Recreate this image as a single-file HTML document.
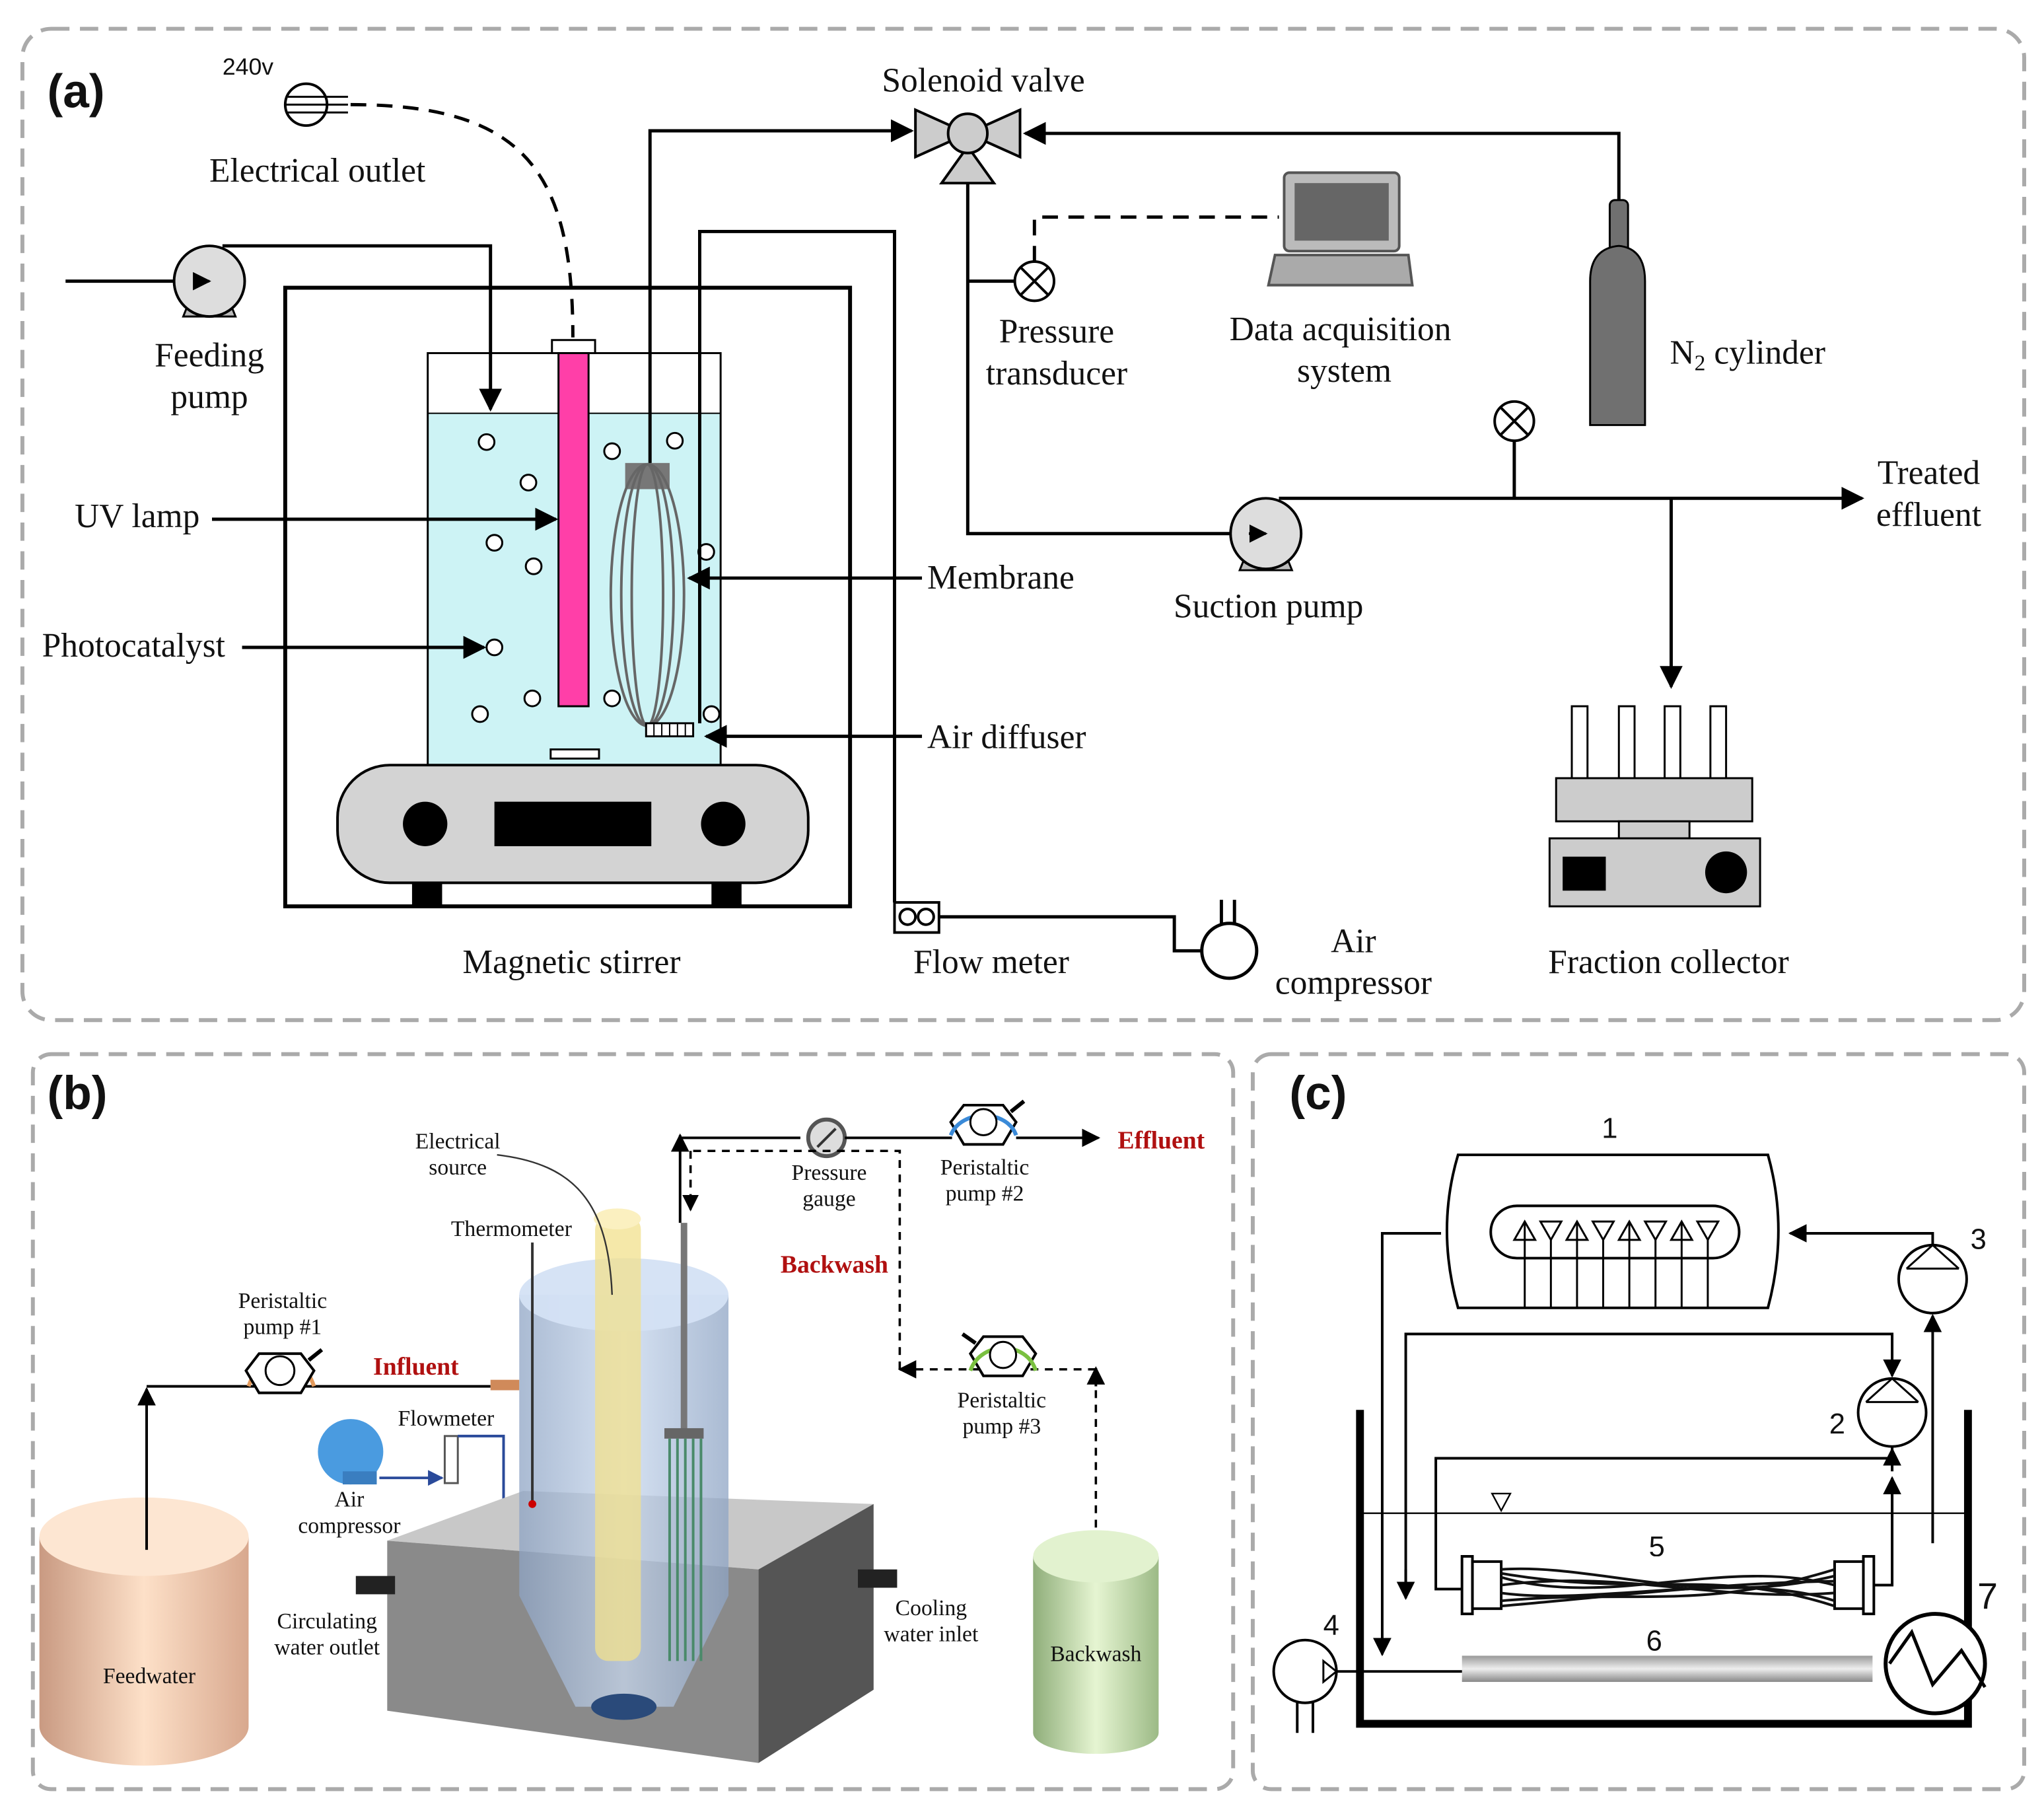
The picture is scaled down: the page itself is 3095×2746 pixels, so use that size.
<!DOCTYPE html>
<html><head><meta charset="utf-8"><style>
html,body{margin:0;padding:0;background:#fff;}
svg{display:block;}
.s{font-family:"Liberation Serif",serif;fill:#111;}
.a{font-size:26px;}
.b{font-size:17px;}
.h{font-family:"Liberation Sans",sans-serif;font-weight:bold;font-size:36px;fill:#111;}
.n{font-family:"Liberation Sans",sans-serif;font-size:22px;fill:#111;}
</style></head><body>
<svg width="3095" height="2746" viewBox="0 0 1563 1387" xmlns="http://www.w3.org/2000/svg">
<defs>
<marker id="ar" viewBox="0 0 10 10" refX="9" refY="5" markerWidth="7" markerHeight="7" orient="auto-start-reverse"><path d="M0,0 L10,5 L0,10 z" fill="#000"/></marker>
<marker id="arb" viewBox="0 0 10 10" refX="9" refY="5" markerWidth="6" markerHeight="6" orient="auto"><path d="M0,0 L10,5 L0,10 z" fill="#2a4a9a"/></marker>
<linearGradient id="peach" x1="0" x2="1"><stop offset="0" stop-color="#c99a82"/><stop offset="0.5" stop-color="#fde0c8"/><stop offset="1" stop-color="#d8a88e"/></linearGradient>
<linearGradient id="green" x1="0" x2="1"><stop offset="0" stop-color="#8fae7a"/><stop offset="0.5" stop-color="#e6f5d2"/><stop offset="1" stop-color="#9cba86"/></linearGradient>
<linearGradient id="tube" x1="0" y1="0" x2="0" y2="1"><stop offset="0" stop-color="#999"/><stop offset="0.5" stop-color="#eee"/><stop offset="1" stop-color="#888"/></linearGradient>
<linearGradient id="reac" x1="0" x2="1"><stop offset="0" stop-color="#8ea4c4"/><stop offset="0.5" stop-color="#c8d8ee"/><stop offset="1" stop-color="#8ea4c4"/></linearGradient>
</defs>

<g fill="none" stroke="#aaa" stroke-width="3" stroke-dasharray="14,8">
<rect x="17" y="22" width="1531" height="758" rx="22"/>
<rect x="25" y="806" width="918" height="562" rx="14"/>
<rect x="958" y="806" width="590" height="562" rx="14"/>
</g>

<!-- ===== PANEL A ===== -->
<text class="h" x="36" y="82">(a)</text>
<text class="n" x="170" y="57" style="font-size:18px">240v</text>
<circle cx="234" cy="80" r="16" fill="#fff" stroke="#000" stroke-width="2"/>
<g stroke="#000" stroke-width="1.5"><line x1="220" y1="74" x2="266" y2="74"/><line x1="218" y1="80" x2="266" y2="80"/><line x1="220" y1="86" x2="266" y2="86"/></g>
<text class="s a" x="160" y="139">Electrical outlet</text>
<path d="M268,80 C400,80 438,130 438,258" fill="none" stroke="#000" stroke-width="2.5" stroke-dasharray="12,8"/>

<line x1="50" y1="215" x2="158" y2="215" stroke="#000" stroke-width="2.5" marker-end="url(#ar)"/>
<path d="M140,242 L180,242 L176,232 L144,232 z" fill="#bbb" stroke="#000" stroke-width="1.5"/>
<circle cx="160" cy="215" r="27" fill="#ddd" stroke="#000" stroke-width="2"/>
<line x1="150" y1="215" x2="160" y2="215" stroke="#000" stroke-width="2" marker-end="url(#ar)"/>
<polyline points="170,188 375,188 375,313" fill="none" stroke="#000" stroke-width="2.5" marker-end="url(#ar)"/>
<text class="s a" x="160" y="280" text-anchor="middle">Feeding</text>
<text class="s a" x="160" y="312" text-anchor="middle">pump</text>

<rect x="218" y="220" width="432" height="473" fill="none" stroke="#000" stroke-width="3"/>
<rect x="327" y="316" width="224" height="269" fill="#cdf3f5"/>
<rect x="327" y="270" width="224" height="315" fill="none" stroke="#000" stroke-width="1.5"/>
<line x1="327" y1="316" x2="551" y2="316" stroke="#000" stroke-width="1"/>
<rect x="422" y="260" width="33" height="10" fill="#fff" stroke="#000" stroke-width="1.5"/>
<rect x="427" y="270" width="23" height="270" fill="#ff3fa8" stroke="#000" stroke-width="1.5"/>
<rect x="478" y="354" width="34" height="20" fill="#777"/>
<g fill="none" stroke="#666" stroke-width="2">
<ellipse cx="495" cy="455" rx="28" ry="100"/><ellipse cx="495" cy="455" rx="20" ry="100"/><ellipse cx="495" cy="455" rx="12" ry="100"/>
</g>
<g fill="#fff" stroke="#000" stroke-width="1.5">
<circle cx="372" cy="338" r="6"/><circle cx="404" cy="369" r="6"/><circle cx="468" cy="345" r="6"/><circle cx="516" cy="337" r="6"/>
<circle cx="378" cy="415" r="6"/><circle cx="408" cy="433" r="6"/><circle cx="540" cy="422" r="6"/>
<circle cx="378" cy="495" r="6"/><circle cx="367" cy="546" r="6"/><circle cx="407" cy="534" r="6"/><circle cx="468" cy="534" r="6"/><circle cx="544" cy="546" r="6"/>
</g>
<rect x="494" y="553" width="36" height="10" fill="#fff" stroke="#000" stroke-width="1.5"/>
<g stroke="#000" stroke-width="1"><line x1="500" y1="553" x2="500" y2="563"/><line x1="506" y1="553" x2="506" y2="563"/><line x1="512" y1="553" x2="512" y2="563"/><line x1="518" y1="553" x2="518" y2="563"/><line x1="524" y1="553" x2="524" y2="563"/></g>
<rect x="421" y="573" width="37" height="7" fill="#fff" stroke="#000" stroke-width="1.5"/>
<rect x="258" y="585" width="360" height="90" rx="40" fill="#d3d3d3" stroke="#000" stroke-width="2"/>
<circle cx="325" cy="630" r="17" fill="#000"/><circle cx="553" cy="630" r="17" fill="#000"/>
<rect x="378" y="613" width="120" height="34" fill="#000"/>
<rect x="315" y="675" width="23" height="18" fill="#000"/><rect x="544" y="675" width="23" height="18" fill="#000"/>
<text class="s a" x="437" y="744" text-anchor="middle">Magnetic stirrer</text>

<text class="s a" x="57" y="403">UV lamp</text>
<line x1="162" y1="397" x2="425" y2="397" stroke="#000" stroke-width="2.5" marker-end="url(#ar)"/>
<text class="s a" x="32" y="502">Photocatalyst</text>
<line x1="185" y1="495" x2="370" y2="495" stroke="#000" stroke-width="2.5" marker-end="url(#ar)"/>
<text class="s a" x="709" y="450">Membrane</text>
<line x1="705" y1="442" x2="527" y2="442" stroke="#000" stroke-width="2.5" marker-end="url(#ar)"/>
<text class="s a" x="709" y="572">Air diffuser</text>
<line x1="705" y1="563" x2="540" y2="563" stroke="#000" stroke-width="2.5" marker-end="url(#ar)"/>

<polyline points="497,354 497,100 697,100" fill="none" stroke="#000" stroke-width="2.5" marker-end="url(#ar)"/>
<polyline points="535,553 535,177 684,177 684,690" fill="none" stroke="#000" stroke-width="2.5"/>
<rect x="684" y="690" width="34" height="23" fill="#fff" stroke="#000" stroke-width="2"/>
<circle cx="694" cy="701" r="6" fill="none" stroke="#000" stroke-width="2"/><circle cx="708" cy="701" r="6" fill="none" stroke="#000" stroke-width="2"/>
<polyline points="718,701 898,701 898,727 918,727" fill="none" stroke="#000" stroke-width="2.5"/>
<circle cx="940" cy="727" r="21" fill="#fff" stroke="#000" stroke-width="2.5"/>
<line x1="934" y1="706" x2="934" y2="688" stroke="#000" stroke-width="2.5"/><line x1="944" y1="706" x2="944" y2="688" stroke="#000" stroke-width="2.5"/>
<text class="s a" x="758" y="744" text-anchor="middle">Flow meter</text>
<text class="s a" x="1035" y="728" text-anchor="middle">Air</text>
<text class="s a" x="1035" y="760" text-anchor="middle">compressor</text>

<path d="M700,84 L740,102 L700,120 z M780,84 L740,102 L780,120 z" fill="#ccc" stroke="#000" stroke-width="2"/>
<path d="M740,112 L760,140 L720,140 z" fill="#ccc" stroke="#000" stroke-width="2"/>
<circle cx="740" cy="102" r="15" fill="#ccc" stroke="#000" stroke-width="2"/>
<text class="s a" x="752" y="70" text-anchor="middle">Solenoid valve</text>
<polyline points="1238,155 1238,102 784,102" fill="none" stroke="#000" stroke-width="2.5" marker-end="url(#ar)"/>
<polyline points="740,140 740,408 966,408" fill="none" stroke="#000" stroke-width="2.5" marker-end="url(#ar)"/>
<line x1="740" y1="215" x2="776" y2="215" stroke="#000" stroke-width="2.5"/>
<circle cx="791" cy="215" r="15" fill="#fff" stroke="#000" stroke-width="2"/>
<g stroke="#000" stroke-width="2"><line x1="781" y1="205" x2="801" y2="225"/><line x1="801" y1="205" x2="781" y2="225"/></g>
<polyline points="791,200 791,166 978,166" fill="none" stroke="#000" stroke-width="2.5" stroke-dasharray="12,8"/>
<rect x="982" y="132" width="88" height="60" rx="4" fill="#bbb" stroke="#555" stroke-width="2"/>
<rect x="990" y="140" width="72" height="44" fill="#666"/>
<path d="M975,195 L1077,195 L1080,218 L970,218 z" fill="#aaa" stroke="#555" stroke-width="2"/>
<text class="s a" x="808" y="262" text-anchor="middle">Pressure</text>
<text class="s a" x="808" y="294" text-anchor="middle">transducer</text>
<text class="s a" x="1025" y="260" text-anchor="middle">Data acquisition</text>
<text class="s a" x="1028" y="292" text-anchor="middle">system</text>
<rect x="1231" y="153" width="14" height="40" rx="4" fill="#707070" stroke="#000" stroke-width="1.5"/>
<path d="M1216,325 L1216,215 Q1216,190 1238,188 Q1258,190 1258,215 L1258,325 z" fill="#707070" stroke="#000" stroke-width="1.5"/>
<text class="s a" x="1277" y="278">N<tspan font-size="17" dy="5">2</tspan><tspan dy="-5"> cylinder</tspan></text>
<path d="M948,436 L988,436 L984,426 L952,426 z" fill="#bbb" stroke="#000" stroke-width="1.5"/>
<circle cx="968" cy="408" r="27" fill="#ddd" stroke="#000" stroke-width="2"/>
<line x1="955" y1="408" x2="968" y2="408" stroke="#000" stroke-width="2" marker-end="url(#ar)"/>
<text class="s a" x="970" y="472" text-anchor="middle">Suction pump</text>
<polyline points="978,381 1424,381" fill="none" stroke="#000" stroke-width="2.5" marker-end="url(#ar)"/>
<line x1="1158" y1="337" x2="1158" y2="381" stroke="#000" stroke-width="2.5"/>
<circle cx="1158" cy="322" r="15" fill="#fff" stroke="#000" stroke-width="2"/>
<g stroke="#000" stroke-width="2"><line x1="1148" y1="312" x2="1168" y2="332"/><line x1="1168" y1="312" x2="1148" y2="332"/></g>
<text class="s a" x="1475" y="370" text-anchor="middle">Treated</text>
<text class="s a" x="1475" y="402" text-anchor="middle">effluent</text>
<line x1="1278" y1="381" x2="1278" y2="525" stroke="#000" stroke-width="2.5" marker-end="url(#ar)"/>
<g fill="#fff" stroke="#000" stroke-width="1.5">
<rect x="1202" y="540" width="12" height="55"/><rect x="1238" y="540" width="12" height="55"/><rect x="1273" y="540" width="12" height="55"/><rect x="1308" y="540" width="12" height="55"/>
</g>
<rect x="1190" y="595" width="150" height="33" fill="#ccc" stroke="#000" stroke-width="1.5"/>
<rect x="1238" y="628" width="54" height="13" fill="#ccc" stroke="#000" stroke-width="1.5"/>
<rect x="1185" y="641" width="161" height="52" fill="#ccc" stroke="#000" stroke-width="1.5"/>
<rect x="1195" y="655" width="33" height="26" fill="#000"/>
<circle cx="1320" cy="667" r="16" fill="#000"/>
<text class="s a" x="1276" y="744" text-anchor="middle">Fraction collector</text>

<!-- ===== PANEL B ===== -->
<text class="h" x="36" y="848">(b)</text>
<path d="M30,1175 L30,1320 A80,30 0 0 0 190,1320 L190,1175 z" fill="url(#peach)"/>
<ellipse cx="110" cy="1175" rx="80" ry="30" fill="#fde6d2"/>
<text class="s b" x="114" y="1287" text-anchor="middle">Feedwater</text>
<polyline points="112,1185 112,1062" fill="none" stroke="#000" stroke-width="2" marker-end="url(#ar)"/>
<polyline points="112,1060 375,1060" fill="none" stroke="#000" stroke-width="2"/>
<path d="M190,1060 C200,1030 230,1030 240,1060" fill="none" stroke="#e39a5c" stroke-width="3"/>
<polygon points="198,1035 230,1035 240,1048 230,1065 198,1065 188,1048" fill="#fff" stroke="#000" stroke-width="2"/>
<circle cx="214" cy="1048" r="11" fill="#fff" stroke="#000" stroke-width="1.5"/>
<line x1="236" y1="1040" x2="246" y2="1032" stroke="#000" stroke-width="3"/>
<text class="s b" x="216" y="1000" text-anchor="middle">Peristaltic</text>
<text class="s b" x="216" y="1020" text-anchor="middle">pump #1</text>
<text class="s" x="318" y="1051" text-anchor="middle" style="font-size:19px;font-weight:bold;fill:#b01010">Influent</text>
<rect x="375" y="1055" width="22" height="8" fill="#d08a5a"/>
<circle cx="268" cy="1110" r="25" fill="#4a9be0"/>
<rect x="262" y="1125" width="26" height="10" fill="#3a7ec0"/>
<text class="s b" x="267" y="1152" text-anchor="middle">Air</text>
<text class="s b" x="267" y="1172" text-anchor="middle">compressor</text>
<text class="s b" x="341" y="1090" text-anchor="middle">Flowmeter</text>
<rect x="340" y="1098" width="10" height="36" fill="#fff" stroke="#555" stroke-width="1.5"/>
<line x1="290" y1="1130" x2="338" y2="1130" stroke="#2a4a9a" stroke-width="2" marker-end="url(#arb)"/>
<polyline points="350,1098 385,1098 385,1305 440,1305" fill="none" stroke="#2a4a9a" stroke-width="2" marker-end="url(#arb)"/>
<polygon points="296,1178 400,1140 668,1150 580,1200" fill="#c8c8c8"/>
<polygon points="296,1178 580,1200 580,1348 296,1308" fill="#8a8a8a"/>
<polygon points="580,1200 668,1150 668,1292 580,1348" fill="#555"/>
<rect x="272" y="1205" width="30" height="14" fill="#222"/>
<rect x="656" y="1200" width="30" height="14" fill="#222"/>
<path d="M397,990 L397,1220 L440,1305 L515,1305 L557,1220 L557,990 z" fill="url(#reac)" opacity="0.75"/>
<ellipse cx="477" cy="990" rx="80" ry="28" fill="#d4e2f4" opacity="0.95"/>
<ellipse cx="477" cy="1305" rx="25" ry="10" fill="#2a4a7a"/>
<rect x="455" y="930" width="35" height="340" rx="10" fill="#f2e08c" opacity="0.75"/>
<ellipse cx="472" cy="932" rx="18" ry="8" fill="#fbf0c0"/>
<line x1="523" y1="935" x2="523" y2="1092" stroke="#777" stroke-width="5"/>
<rect x="508" y="1092" width="30" height="8" fill="#666"/>
<g stroke="#4a8a6a" stroke-width="2"><line x1="512" y1="1100" x2="512" y2="1270"/><line x1="518" y1="1100" x2="518" y2="1270"/><line x1="524" y1="1100" x2="524" y2="1270"/><line x1="530" y1="1100" x2="530" y2="1270"/><line x1="536" y1="1100" x2="536" y2="1270"/></g>
<line x1="407" y1="950" x2="407" y2="1150" stroke="#333" stroke-width="2"/>
<circle cx="407" cy="1150" r="3" fill="#c00"/>
<path d="M380,883 C440,890 465,920 468,990" fill="none" stroke="#333" stroke-width="1.2"/>
<text class="s b" x="350" y="878" text-anchor="middle">Electrical</text>
<text class="s b" x="350" y="898" text-anchor="middle">source</text>
<text class="s b" x="391" y="945" text-anchor="middle">Thermometer</text>
<text class="s b" x="250" y="1245" text-anchor="middle">Circulating</text>
<text class="s b" x="250" y="1265" text-anchor="middle">water outlet</text>
<text class="s b" x="712" y="1235" text-anchor="middle">Cooling</text>
<text class="s b" x="712" y="1255" text-anchor="middle">water inlet</text>
<polyline points="520,935 520,870 612,870" fill="none" stroke="#000" stroke-width="2"/>
<line x1="520" y1="880" x2="520" y2="868" stroke="#000" stroke-width="2" marker-end="url(#ar)"/>
<circle cx="632" cy="870" r="14" fill="#ddd" stroke="#555" stroke-width="3"/>
<line x1="625" y1="877" x2="639" y2="863" stroke="#333" stroke-width="2"/>
<line x1="646" y1="870" x2="728" y2="870" stroke="#000" stroke-width="2"/>
<polygon points="737,845 767,845 777,858 767,875 737,875 727,858" fill="#fff" stroke="#000" stroke-width="2"/>
<path d="M727,868 C735,848 770,848 777,868" fill="none" stroke="#3a8ad8" stroke-width="3"/>
<circle cx="752" cy="858" r="10" fill="#fff" stroke="#000" stroke-width="1.5"/>
<line x1="773" y1="850" x2="783" y2="842" stroke="#000" stroke-width="3"/>
<line x1="777" y1="870" x2="840" y2="870" stroke="#000" stroke-width="2" marker-end="url(#ar)"/>
<text class="s" x="888" y="878" text-anchor="middle" style="font-size:19px;font-weight:bold;fill:#b01010">Effluent</text>
<text class="s b" x="634" y="902" text-anchor="middle">Pressure</text>
<text class="s b" x="634" y="922" text-anchor="middle">gauge</text>
<text class="s b" x="753" y="898" text-anchor="middle">Peristaltic</text>
<text class="s b" x="753" y="918" text-anchor="middle">pump #2</text>
<g fill="none" stroke="#000" stroke-width="1.8" stroke-dasharray="6,5">
<polyline points="688,1047 688,880 530,880"/>
<line x1="528" y1="880" x2="528" y2="925" marker-end="url(#ar)"/>
<polyline points="838,1190 838,1047 690,1047"/>
</g>
<line x1="838" y1="1060" x2="838" y2="1046" stroke="#000" stroke-width="2" marker-end="url(#ar)"/>
<line x1="700" y1="1047" x2="688" y2="1047" stroke="#000" stroke-width="2" marker-end="url(#ar)"/>
<text class="s" x="638" y="973" text-anchor="middle" style="font-size:19px;font-weight:bold;fill:#b01010">Backwash</text>
<polygon points="752,1022 782,1022 792,1035 782,1052 752,1052 742,1035" fill="#fff" stroke="#000" stroke-width="2"/>
<path d="M742,1048 C750,1025 785,1025 792,1048" fill="none" stroke="#7ac040" stroke-width="3"/>
<circle cx="767" cy="1036" r="10" fill="#fff" stroke="#000" stroke-width="1.5"/>
<line x1="746" y1="1027" x2="736" y2="1020" stroke="#000" stroke-width="3"/>
<text class="s b" x="766" y="1076" text-anchor="middle">Peristaltic</text>
<text class="s b" x="766" y="1096" text-anchor="middle">pump #3</text>
<path d="M790,1190 L790,1325 A48,16 0 0 0 886,1325 L886,1190 z" fill="url(#green)"/>
<ellipse cx="838" cy="1190" rx="48" ry="20" fill="#e2f2cf"/>
<text class="s b" x="838" y="1270" text-anchor="middle">Backwash</text>

<!-- ===== PANEL C ===== -->
<text class="h" x="986" y="848">(c)</text>
<text class="n" x="1231" y="870" text-anchor="middle">1</text>
<path d="M1115,883 L1352,883 Q1368,940 1352,1000 L1115,1000 Q1098,940 1115,883 z" fill="#fff" stroke="#000" stroke-width="2"/>
<rect x="1140" y="922" width="190" height="40" rx="20" fill="none" stroke="#000" stroke-width="2"/>
<g fill="none" stroke="#000" stroke-width="1.5">
<polygon points="1166,934 1158,948 1174,948"/>
<polygon points="1178,934 1194,934 1186,948"/><polygon points="1206,934 1198,948 1214,948"/><polygon points="1218,934 1234,934 1226,948"/>
<polygon points="1246,934 1238,948 1254,948"/><polygon points="1258,934 1274,934 1266,948"/><polygon points="1286,934 1278,948 1294,948"/><polygon points="1298,934 1314,934 1306,948"/>
</g>
<g stroke="#000" stroke-width="1.5">
<line x1="1166" y1="934" x2="1166" y2="1000"/><line x1="1186" y1="948" x2="1186" y2="1000"/><line x1="1206" y1="934" x2="1206" y2="1000"/><line x1="1226" y1="948" x2="1226" y2="1000"/><line x1="1246" y1="934" x2="1246" y2="1000"/><line x1="1266" y1="948" x2="1266" y2="1000"/><line x1="1286" y1="934" x2="1286" y2="1000"/><line x1="1306" y1="948" x2="1306" y2="1000"/>
</g>
<g fill="none" stroke="#000" stroke-width="2">
<polyline points="1478,952 1478,943 1369,943" marker-end="url(#ar)"/>
<polyline points="1102,943 1057,943 1057,1265" marker-end="url(#ar)"/>
<polyline points="1075,1220 1075,1020 1447,1020 1447,1052" marker-end="url(#ar)"/>
<line x1="1075" y1="1200" x2="1075" y2="1222" marker-end="url(#ar)"/>
<line x1="1478" y1="1180" x2="1478" y2="1006" marker-end="url(#ar)"/>
<polyline points="1118,1215 1098,1215 1098,1115 1447,1115 1447,1106"/>
<line x1="1447" y1="1125" x2="1447" y2="1108" marker-end="url(#ar)"/>
<polyline points="1433,1212 1447,1212 1447,1140"/>
<line x1="1447" y1="1160" x2="1447" y2="1130" marker-end="url(#ar)"/>
</g>
<circle cx="1478" cy="978" r="26" fill="#fff" stroke="#000" stroke-width="2"/>
<path d="M1458,970 L1498,970 M1458,970 L1478,952 M1498,970 L1478,952" stroke="#000" stroke-width="1.5" fill="none"/>
<text class="n" x="1513" y="955" text-anchor="middle">3</text>
<circle cx="1447" cy="1080" r="26" fill="#fff" stroke="#000" stroke-width="2"/>
<path d="M1427,1072 L1467,1072 M1427,1072 L1447,1054 M1467,1072 L1447,1054" stroke="#000" stroke-width="1.5" fill="none"/>
<text class="n" x="1405" y="1096" text-anchor="middle">2</text>
<polyline points="1040,1078 1040,1318 1505,1318 1505,1078" fill="none" stroke="#000" stroke-width="6"/>
<line x1="1040" y1="1157" x2="1505" y2="1157" stroke="#000" stroke-width="1.2"/>
<polygon points="1141,1142 1155,1142 1148,1155" fill="#fff" stroke="#000" stroke-width="1.2"/>
<text class="n" x="1267" y="1190" text-anchor="middle">5</text>
<rect x="1118" y="1190" width="315" height="44" fill="#fff"/>
<g stroke="#000" stroke-width="2" fill="none">
<rect x="1118" y="1190" width="8" height="44"/><rect x="1425" y="1190" width="8" height="44"/>
<rect x="1126" y="1194" width="22" height="36"/><rect x="1403" y="1194" width="22" height="36"/>
</g>
<g stroke="#111" stroke-width="2" fill="none">
<path d="M1148,1200 C1220,1195 1300,1230 1403,1205"/><path d="M1148,1206 C1230,1230 1320,1190 1403,1212"/>
<path d="M1148,1212 C1240,1200 1310,1225 1403,1218"/><path d="M1148,1218 C1220,1228 1330,1200 1403,1224"/>
<path d="M1148,1224 C1250,1215 1300,1232 1403,1200"/><path d="M1148,1203 C1260,1222 1310,1198 1403,1228"/>
<path d="M1148,1228 C1240,1220 1320,1210 1403,1209"/>
</g>
<text class="n" x="1265" y="1262" text-anchor="middle">6</text>
<rect x="1118" y="1266" width="314" height="20" fill="url(#tube)"/>
<line x1="1020" y1="1278" x2="1118" y2="1278" stroke="#000" stroke-width="2"/>
<circle cx="998" cy="1278" r="24" fill="#fff" stroke="#000" stroke-width="2"/>
<path d="M1012,1270 L1022,1278 L1012,1286 z" fill="#fff" stroke="#000" stroke-width="1.5"/>
<line x1="992" y1="1302" x2="992" y2="1325" stroke="#000" stroke-width="2"/><line x1="1004" y1="1302" x2="1004" y2="1325" stroke="#000" stroke-width="2"/>
<text class="n" x="1018" y="1250" text-anchor="middle">4</text>
<circle cx="1480" cy="1272" r="38" fill="#fff" stroke="#000" stroke-width="3"/>
<polyline points="1445,1272 1462,1248 1478,1288 1500,1262 1518,1290" fill="none" stroke="#000" stroke-width="2.5"/>
<text class="n" x="1520" y="1230" text-anchor="middle" style="font-size:28px">7</text>
</svg>
</body></html>
